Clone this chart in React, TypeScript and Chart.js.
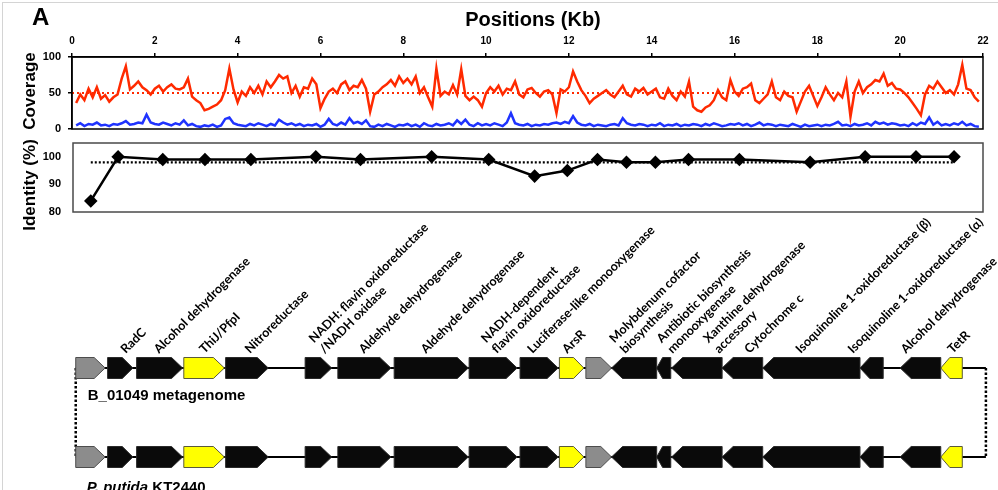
import React, { useEffect, useRef } from 'react';
import { Chart, registerables } from 'chart.js';

Chart.register(...registerables);

// ---------------- data ----------------
const POSITION_STEP_KB = 0.1;
const positionTicksKb = [0, 2, 4, 6, 8, 10, 12, 14, 16, 18, 20, 22];
const coverageTicks = [0, 50, 100];
const identityTicks = [80, 90, 100];

// coverage sampled every 0.1 kb, starting at 0.1 kb
const coverageRed = [
  36, 48, 40, 56, 44, 58, 42, 47, 38, 44,
  48, 70, 87, 55, 60, 66, 58, 54, 48, 56,
  60, 52, 58, 62, 56, 55, 58, 70, 45, 40,
  36, 26, 28, 31, 34, 40, 54, 84, 55, 37,
  52, 46, 58, 50, 60, 48, 66, 58, 66, 75,
  70, 73, 50, 60, 45, 58, 56, 70, 62, 29,
  42, 52, 56, 50, 62, 66, 54, 60, 58, 68,
  56, 24, 48, 52, 58, 62, 68, 60, 73, 64,
  70, 62, 73, 50, 58, 44, 31, 84, 46, 52,
  48, 61, 48, 83, 46, 40, 45, 40, 31, 50,
  58, 52, 60, 48, 56, 54, 66, 48, 44, 55,
  57, 50, 45, 52, 54, 48, 22, 55, 52, 58,
  80, 66, 54, 46, 36, 42, 46, 50, 54, 48,
  44, 52, 60, 48, 45, 56, 52, 57, 48, 52,
  56, 44, 42, 56, 46, 40, 52, 45, 66, 31,
  26, 24, 30, 33, 40, 54, 44, 40, 68, 52,
  46, 56, 58, 63, 40, 36, 42, 48, 66, 44,
  40, 52, 46, 44, 24, 38, 52, 60, 46, 32,
  44, 58, 48, 40, 50, 44, 66, 17, 52, 66,
  50, 58, 62, 68, 66, 77, 60, 64, 56, 55,
  50, 44, 36, 28, 19, 48, 60, 56, 66, 58,
  50, 54, 48, 62, 89, 56, 54, 44, 38,
];
const coverageBlue = [
  5, 8, 4, 7, 6, 9, 5, 6, 4, 7,
  6, 8, 11, 6, 7, 9, 8, 20, 9, 7,
  6, 9, 7, 5, 8, 6, 12, 5, 7, 4,
  3, 5, 4, 6, 3, 5, 14, 16, 8, 6,
  5, 4, 7, 5, 8, 6, 4, 7, 5, 13,
  9, 6, 8, 5, 7, 4, 6, 5, 7, 3,
  6, 14, 7, 5, 9, 6, 15, 8, 10, 7,
  12, 4, 3, 6, 4, 7, 5, 3, 6, 5,
  7, 4, 6, 3, 8, 5, 4, 7, 5, 6,
  8, 5, 12, 7, 13, 6, 4, 8, 5, 7,
  5, 8, 6, 4, 9, 22, 8, 6, 5, 7,
  4, 6, 5, 7, 6, 8, 9, 7, 10, 8,
  18, 9, 6, 5, 7, 4, 6, 5, 4, 6,
  7, 5, 15, 8, 6, 5, 7, 6, 4, 6,
  5, 8, 4, 6, 5, 7, 4, 6, 5, 7,
  6, 4, 7, 5, 8, 6, 4, 5, 7, 6,
  8, 5, 7, 4, 6, 9, 5, 7, 6, 4,
  6, 5, 4, 7, 5, 3, 6, 4, 5, 6,
  4, 6, 5, 7, 10, 5, 6, 4, 7, 5,
  6, 8, 5, 10, 7, 9, 6, 8, 7, 5,
  6, 4, 8, 5, 9, 7, 16, 6, 10, 5,
  7, 5, 8, 6, 10, 5, 7, 4, 3,
];
const coverageMean = 50;
const coverageMeanRangeKb = [0, 21.9];

const identityKb = [0.43, 1.09, 2.17, 3.19, 4.3, 5.87, 6.95, 8.67, 10.05, 11.16, 11.95, 12.68, 13.38, 14.08, 14.88, 16.11, 17.82, 19.15, 20.38, 21.3];
const identityPct = [84, 100, 99, 99, 99, 100, 99, 100, 99, 93, 95, 99, 98, 98, 99, 99, 98, 100, 100, 100];
const identityMean = 98;

const geneStartKb = [0.09, 0.86, 1.56, 2.70, 3.71, 5.63, 6.42, 7.78, 9.59, 10.82, 11.77, 12.41, 13.03, 14.12, 14.48, 15.70, 16.68, 19.03, 20.00, 20.98];
const geneEndKb = [0.80, 1.47, 2.67, 3.68, 4.74, 6.27, 7.70, 9.57, 10.75, 11.74, 12.36, 13.03, 14.12, 14.46, 15.70, 16.68, 19.03, 19.59, 20.98, 21.50];
const geneForward = [true, true, true, true, true, true, true, true, true, true, true, true, false, false, false, false, false, false, false, false];
const geneKind = ['flank', 'core', 'core', 'mark', 'core', 'core', 'core', 'core', 'core', 'core', 'mark', 'flank', 'core', 'core', 'core', 'core', 'core', 'core', 'core', 'mark'];
const geneLabels = [
  '',
  'RadC',
  'Alcohol dehydrogenase',
  'ThiJ/PfpI',
  'Nitroreductase',
  'NADH: flavin oxidoreductase\n/NADH oxidase',
  'Aldehyde dehydrogenase',
  'Aldehyde dehydrogenase',
  'NADH-dependent\nflavin oxidoreductase',
  'Luciferase-like monooxygenase',
  'ArsR',
  '',
  'Molybdenum cofactor\nbiosynthesis',
  'Antibiotic biosynthesis\nmonooxygenase',
  'Xanthine dehydrogenase\naccessory',
  'Cytochrome c',
  'Isoquinoline 1-oxidoreductase (β)',
  'Isoquinoline 1-oxidoreductase (α)',
  'Alcohol dehydrogenase',
  'TetR',
];
const labelKb = [0, 1.3, 2.1, 3.2, 4.3, 6.1, 7.05, 8.55, 10.26, 11.12, 11.96, 0, 13.36, 14.5, 15.63, 16.36, 17.6, 18.86, 20.14, 21.27];
const backboneKb = [0.09, 22.07];
const trackNames = ['B_01049 metagenome', 'P. putida|KT2440'];

// ---------------- styles ----------------
const ARIAL = "'Liberation Sans', Arial, sans-serif";
const LABEL_FONT = "Lato, 'Open Sans', sans-serif";
const RED = '#ff2a00';
const BLUE = '#1f33ff';
const KIND_FILL: Record<string, string> = { flank: '#8c8c8c', core: '#0a0a0a', mark: '#ffff00' };
const KIND_STROKE: Record<string, string> = { flank: '#4d4d4d', core: '#2a2a2a', mark: '#5a5a3a' };

const framePlugin = (color: string, width: number) => ({
  id: 'frame',
  afterDatasetsDraw(chart: any) {
    const { ctx, chartArea: a } = chart;
    ctx.save();
    ctx.strokeStyle = color;
    ctx.lineWidth = width;
    ctx.strokeRect(a.left, a.top, a.right - a.left, a.bottom - a.top);
    ctx.restore();
  },
});

const coverageTextPlugin = {
  id: 'coverageText',
  afterDraw(chart: any) {
    const { ctx } = chart;
    ctx.save();
    ctx.fillStyle = '#000';
    ctx.font = `bold 24px ${ARIAL}`;
    ctx.textAlign = 'left';
    ctx.textBaseline = 'alphabetic';
    ctx.fillText('A', 32, 25);
    ctx.font = `bold 20px ${ARIAL}`;
    ctx.textAlign = 'center';
    ctx.fillText('Positions (Kb)', 533, 26);
    ctx.translate(34.5, 91);
    ctx.rotate(-Math.PI / 2);
    ctx.font = `bold 17px ${ARIAL}`;
    ctx.fillText('Coverage', 0, 0);
    ctx.restore();
  },
};

const identityTextPlugin = {
  id: 'identityText',
  afterDraw(chart: any) {
    const { ctx } = chart;
    ctx.save();
    ctx.fillStyle = '#000';
    ctx.translate(34.5, 185);
    ctx.rotate(-Math.PI / 2);
    ctx.font = `bold 17px ${ARIAL}`;
    ctx.textAlign = 'center';
    ctx.textBaseline = 'alphabetic';
    ctx.fillText('Identity (%)', 0, 0);
    ctx.restore();
  },
};

function drawGene(ctx: any, x0: number, x1: number, yc: number, h: number, fwd: boolean, fill: string, stroke: string) {
  const len = x1 - x0;
  const head = Math.min(11, len * 0.42);
  ctx.beginPath();
  if (fwd) {
    ctx.moveTo(x0, yc - h / 2);
    ctx.lineTo(x1 - head, yc - h / 2);
    ctx.lineTo(x1, yc);
    ctx.lineTo(x1 - head, yc + h / 2);
    ctx.lineTo(x0, yc + h / 2);
  } else {
    ctx.moveTo(x1, yc - h / 2);
    ctx.lineTo(x0 + head, yc - h / 2);
    ctx.lineTo(x0, yc);
    ctx.lineTo(x0 + head, yc + h / 2);
    ctx.lineTo(x1, yc + h / 2);
  }
  ctx.closePath();
  ctx.fillStyle = fill;
  ctx.fill();
  ctx.lineWidth = 1;
  ctx.strokeStyle = stroke;
  ctx.stroke();
}

const genePlugin = {
  id: 'genes',
  afterDatasetsDraw(chart: any) {
    const { ctx } = chart;
    const x = chart.scales.x;
    const y = chart.scales.y;
    const tracks = [y.getPixelForValue(1), y.getPixelForValue(0)];
    const xl = x.getPixelForValue(backboneKb[0]);
    const xr = x.getPixelForValue(backboneKb[1]);
    ctx.save();
    // dotted connectors between tracks
    ctx.strokeStyle = '#000';
    ctx.lineWidth = 2.5;
    ctx.setLineDash([2.5, 2]);
    ctx.beginPath();
    ctx.moveTo(xl, tracks[0]);
    ctx.lineTo(xl, tracks[1]);
    ctx.moveTo(xr, tracks[0]);
    ctx.lineTo(xr, tracks[1]);
    ctx.stroke();
    ctx.setLineDash([]);
    // backbones
    ctx.lineWidth = 2;
    tracks.forEach((yc) => {
      ctx.beginPath();
      ctx.moveTo(xl, yc);
      ctx.lineTo(xr, yc);
      ctx.stroke();
    });
    // genes
    tracks.forEach((yc) => {
      geneStartKb.forEach((s, i) => {
        const k = geneKind[i];
        drawGene(ctx, x.getPixelForValue(s), x.getPixelForValue(geneEndKb[i]), yc, 21, geneForward[i], KIND_FILL[k], KIND_STROKE[k]);
      });
    });
    // gene labels
    ctx.fillStyle = '#000';
    ctx.font = `bold 12.5px ${LABEL_FONT}`;
    ctx.textAlign = 'left';
    ctx.textBaseline = 'alphabetic';
    geneLabels.forEach((lab, i) => {
      if (!lab) return;
      const lines = lab.split('\n');
      ctx.save();
      ctx.translate(x.getPixelForValue(labelKb[i]), tracks[0] - 14);
      ctx.rotate(-Math.PI / 4);
      lines.forEach((ln, j) => ctx.fillText(ln, 0, -(lines.length - 1 - j) * 15));
      ctx.restore();
    });
    // track names
    ctx.font = `bold 15px ${ARIAL}`;
    ctx.fillText(trackNames[0], xl + 12, tracks[0] + 32);
    const [ital, rest] = trackNames[1].split('|');
    ctx.font = `italic bold 15px ${ARIAL}`;
    ctx.fillText(ital, xl + 11, tracks[1] + 35);
    const w = ctx.measureText(ital + ' ').width;
    ctx.font = `bold 15px ${ARIAL}`;
    ctx.fillText(rest, xl + 11 + w, tracks[1] + 35);
    ctx.restore();
  },
};

const positionPts = coverageRed.map((_, i) => +((i + 1) * POSITION_STEP_KB).toFixed(1));

export default function App() {
  const c1 = useRef<HTMLCanvasElement>(null);
  const c2 = useRef<HTMLCanvasElement>(null);
  const c3 = useRef<HTMLCanvasElement>(null);

  useEffect(() => {
    const common: any = {
      responsive: false,
      maintainAspectRatio: false,
      animation: false,
      events: [],
      plugins: { legend: { display: false }, tooltip: { enabled: false } },
    };

    const chart1 = new Chart(c1.current as HTMLCanvasElement, {
      type: 'line',
      data: {
        datasets: [
          { label: 'Red coverage', data: coverageRed.map((v, i) => ({ x: positionPts[i], y: v })), borderColor: RED, borderWidth: 2.5, pointRadius: 0, tension: 0 },
          { label: 'Blue coverage', data: coverageBlue.map((v, i) => ({ x: positionPts[i], y: v })), borderColor: BLUE, borderWidth: 2.5, pointRadius: 0, tension: 0 },
          { label: 'Mean', data: coverageMeanRangeKb.map((k) => ({ x: k, y: coverageMean })), borderColor: RED, borderWidth: 2, borderDash: [2, 3], pointRadius: 0 },
        ],
      } as any,
      options: {
        ...common,
        layout: { autoPadding: false, padding: { left: 0, right: 15, top: 0, bottom: 361 } },
        scales: {
          x: {
            type: 'linear', position: 'top', min: 0, max: 22,
            afterBuildTicks: (s: any) => { s.ticks = positionTicksKb.map((v) => ({ value: v })); },
            afterFit: (s: any) => { s.height = 57; },
            ticks: { color: '#000', font: { family: ARIAL, size: 10, weight: 'bold' }, padding: 6, maxRotation: 0, autoSkip: false },
            grid: { drawOnChartArea: false, color: '#000', lineWidth: 1.5, tickLength: 4 },
            border: { color: '#000', width: 1.5 },
          },
          y: {
            min: 0, max: 100,
            afterBuildTicks: (s: any) => { s.ticks = coverageTicks.map((v) => ({ value: v })); },
            afterFit: (s: any) => { s.width = 72; },
            ticks: { color: '#000', font: { family: ARIAL, size: 11, weight: 'bold' }, padding: 7 },
            grid: { drawOnChartArea: false, color: '#000', lineWidth: 1.5, tickLength: 4 },
            border: { color: '#000', width: 1.5 },
          },
        },
      } as any,
      plugins: [framePlugin('#000', 1.5), coverageTextPlugin],
    });

    const chart2 = new Chart(c2.current as HTMLCanvasElement, {
      type: 'line',
      data: {
        datasets: [
          { label: 'Mean identity', data: [{ x: identityKb[0], y: identityMean }, { x: identityKb[identityKb.length - 1], y: identityMean }], borderColor: '#000', borderWidth: 2.2, borderDash: [2, 2], pointRadius: 0 },
          { label: 'Identity', data: identityKb.map((k, i) => ({ x: k, y: identityPct[i] })), borderColor: '#000', borderWidth: 2.5, pointStyle: 'rectRot', pointRadius: 5, pointBackgroundColor: '#000', pointBorderColor: '#000', tension: 0 },
        ],
      } as any,
      options: {
        ...common,
        layout: { autoPadding: false, padding: { left: 0, right: 15, top: 143, bottom: 278 } },
        scales: {
          x: { type: 'linear', min: 0, max: 22, display: false },
          y: {
            min: 80, max: 105,
            afterBuildTicks: (s: any) => { s.ticks = identityTicks.map((v) => ({ value: v })); },
            afterFit: (s: any) => { s.width = 73; },
            ticks: { color: '#000', font: { family: ARIAL, size: 11, weight: 'bold' }, padding: 4 },
            grid: { display: false },
            border: { display: false },
          },
        },
      } as any,
      plugins: [framePlugin('#4a4a4a', 1.5), identityTextPlugin],
    });

    const chart3 = new Chart(c3.current as HTMLCanvasElement, {
      type: 'scatter',
      data: { datasets: [] },
      options: {
        ...common,
        layout: { autoPadding: false, padding: { left: 72, right: 15, top: 368, bottom: 33 } },
        scales: {
          x: { type: 'linear', min: 0, max: 22, display: false },
          y: { type: 'linear', min: 0, max: 1, display: false },
        },
      } as any,
      plugins: [genePlugin],
    });

    return () => {
      chart1.destroy();
      chart2.destroy();
      chart3.destroy();
    };
  }, []);

  const cv: React.CSSProperties = { position: 'absolute', left: 0, top: 0 };
  return (
    <div style={{ position: 'absolute', left: 0, top: 0, width: 998, height: 490, background: '#fff', overflow: 'hidden' }}>
      <div style={{ position: 'absolute', left: 2, top: 2, width: 996, height: 488, borderTop: '1px solid #d4d4d4', borderLeft: '1px solid #d4d4d4' }} />
      <canvas ref={c3} width={998} height={490} style={cv} />
      <canvas ref={c2} width={998} height={490} style={cv} />
      <canvas ref={c1} width={998} height={490} style={cv} />
    </div>
  );
}
